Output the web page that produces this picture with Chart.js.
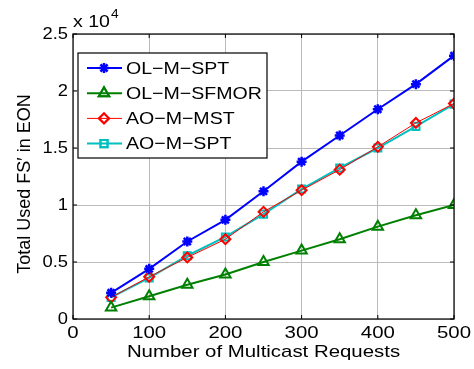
<!DOCTYPE html>
<html>
<head>
<meta charset="utf-8">
<script src="https://cdn.jsdelivr.net/npm/chart.js@4/dist/chart.umd.min.js"></script>
<style>
  html, body { margin: 0; padding: 0; background: #fff; }
  #wrap { width: 474px; height: 369px; }
</style>
</head>
<body>
<div id="wrap"><canvas id="chart" width="474" height="369"></canvas></div>
<script>
// multicast request counts (x axis)
const requests = [50, 100, 150, 200, 250, 300, 350, 400, 450, 500];

// total used FS' in EON
const olMSpt   = [2300, 4400, 6800, 8700, 11200, 13800, 16100, 18400, 20600, 23100];
const olMSfmor = [1000, 2000, 3000, 3900, 5000, 6000, 7000, 8100, 9100, 10000];
const aoMMst   = [1900, 3700, 5400, 7000, 9400, 11300, 13100, 15100, 17200, 18900];
const aoMSpt   = [1900, 3600, 5550, 7200, 9200, 11400, 13250, 15000, 16900, 18850];

const xTicks = [0, 100, 200, 300, 400, 500];
const yTicks = [0, 5000, 10000, 15000, 20000, 25000];
const yTickLabels = ['0', '0.5', '1', '1.5', '2', '2.5'];

const font = 'Liberation Sans, Arial, Helvetica, sans-serif';

function points(vals) {
    return requests.map((x, i) => ({ x: x, y: vals[i] }));
}

function series(label, vals, color, style, width, radius) {
    return {
        label: label,
        data: points(vals),
        borderColor: color,
        backgroundColor: style === 'star' ? color : 'rgba(255,255,255,0)',
        borderWidth: width,
        pointStyle: style,
        pointRadius: radius,
        pointBorderWidth: style === 'star' ? 2.5 : 2,
        pointBorderColor: color,
        tension: 0
    };
}

// text is a little wide in the original, so stretch it sideways
function text(ctx, str, x, y, size, align, stretch, baseline) {
    ctx.save();
    ctx.font = size + 'px ' + font;
    ctx.textBaseline = baseline || 'middle';
    const w = ctx.measureText(str).width * stretch;
    let left = x;
    if (align === 'center') left = x - w / 2;
    if (align === 'right') left = x - w;
    ctx.translate(left, y);
    ctx.scale(stretch, 1);
    ctx.textAlign = 'left';
    ctx.fillText(str, 0, 0);
    ctx.restore();
    return w;
}

// box round the plot, inward ticks, labels, legend and exponent
const framePlugin = {
    id: 'frame',
    afterDraw(chart) {
        const ctx = chart.ctx;
        const a = chart.chartArea;
        const xs = chart.scales.x, ys = chart.scales.y;
        ctx.save();
        ctx.strokeStyle = '#000';
        ctx.lineWidth = 1.2;
        ctx.strokeRect(a.left, a.top, a.right - a.left, a.bottom - a.top);
        ctx.lineWidth = 1;
        ctx.fillStyle = '#000';
        xTicks.forEach(v => {
            const px = xs.getPixelForValue(v);
            ctx.beginPath();
            ctx.moveTo(px, a.bottom); ctx.lineTo(px, a.bottom - 4);
            ctx.moveTo(px, a.top); ctx.lineTo(px, a.top + 4);
            ctx.stroke();
            text(ctx, String(v), px, a.bottom + 14, 17, 'center', 1.2);
        });
        yTicks.forEach((v, i) => {
            const py = ys.getPixelForValue(v);
            ctx.beginPath();
            ctx.moveTo(a.left, py); ctx.lineTo(a.left + 4, py);
            ctx.moveTo(a.right, py); ctx.lineTo(a.right - 4, py);
            ctx.stroke();
            text(ctx, yTickLabels[i], a.left - 5, py, 17, 'right', 1.08);
        });

        // axis titles
        text(ctx, 'Number of Multicast Requests', (a.left + a.right) / 2, 357, 17, 'center', 1.2, 'alphabetic');
        ctx.save();
        ctx.translate(30, 184);
        ctx.rotate(-Math.PI / 2);
        ctx.font = '18px ' + font;
        ctx.textAlign = 'center';
        ctx.textBaseline = 'alphabetic';
        ctx.fillText('Total Used FS\u2032 in EON', 0, 0);
        ctx.restore();

        // exponent
        const w = text(ctx, 'x 10', a.left, 27, 17, 'left', 1.15, 'alphabetic');
        text(ctx, '4', a.left + w + 1, 18, 12, 'left', 1.15, 'alphabetic');

        // legend box
        const lx = 78, ly = 53, lw = 189, lh = 105;
        ctx.fillStyle = '#fff';
        ctx.fillRect(lx, ly, lw, lh);
        ctx.strokeStyle = '#000';
        ctx.lineWidth = 1.2;
        ctx.strokeRect(lx, ly, lw, lh);
        chart.data.datasets.forEach((ds, i) => {
            const cy = 68 + i * 25.2;
            ctx.strokeStyle = ds.borderColor;
            ctx.lineWidth = ds.borderWidth;
            ctx.beginPath();
            ctx.moveTo(87, cy); ctx.lineTo(122, cy);
            ctx.stroke();
            ctx.lineWidth = ds.pointBorderWidth;
            ctx.fillStyle = ds.backgroundColor;
            Chart.helpers.drawPoint(ctx, {
                pointStyle: ds.pointStyle, radius: ds.pointRadius, rotation: 0, borderWidth: ds.pointBorderWidth
            }, 104, cy);
            if (ds.pointStyle !== 'star') ctx.stroke();
            ctx.fillStyle = '#000';
            text(ctx, ds.label, 126, cy + 1, 17, 'left', 1.15);
        });
        ctx.restore();
    }
};

new Chart(document.getElementById('chart'), {
    type: 'line',
    data: {
        datasets: [
            series('OL\u2212M\u2212SPT', olMSpt, '#0000ff', 'star', 2, 5),
            series('OL\u2212M\u2212SFMOR', olMSfmor, '#008000', 'triangle', 2, 6),
            series('AO\u2212M\u2212MST', aoMMst, '#ff0000', 'rectRot', 1, 5),
            series('AO\u2212M\u2212SPT', aoMSpt, '#00bfbf', 'rect', 2, 5)
        ]
    },
    options: {
        responsive: false,
        animation: false,
        devicePixelRatio: 1,
        layout: { padding: { top: 34, right: 20, left: 0, bottom: 0 } },
        plugins: { legend: { display: false }, tooltip: { enabled: false } },
        scales: {
            x: {
                type: 'linear',
                min: 0, max: 500,
                afterBuildTicks: s => { s.ticks = xTicks.map(v => ({ value: v })); },
                afterFit: s => { s.height = 50; },
                grid: { color: '#bbb', lineWidth: 1, borderDash: [1, 3], drawTicks: false },
                border: { display: false },
                ticks: { display: false }
            },
            y: {
                min: 0, max: 25000,
                afterBuildTicks: s => { s.ticks = yTicks.map(v => ({ value: v })); },
                afterFit: s => { s.width = 73; },
                grid: { color: '#bbb', lineWidth: 1, borderDash: [1, 3], drawTicks: false },
                border: { display: false },
                ticks: { display: false }
            }
        }
    },
    plugins: [framePlugin]
});
</script>
</body>
</html>
